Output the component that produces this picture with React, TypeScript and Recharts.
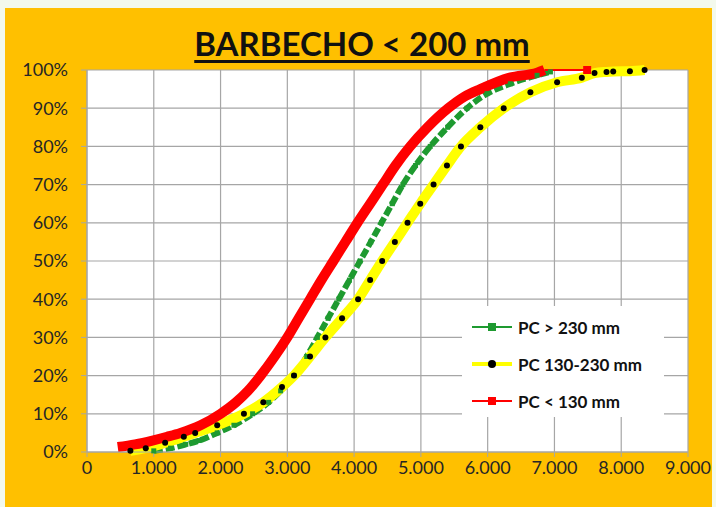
import React from "react";
import { LineChart, Line, XAxis, YAxis, CartesianGrid } from "recharts";

// cumulative % vs mm
const greenPct = [0.3, 1, 2, 3, 5, 7, 10, 13, 16, 20, 25, 30, 35, 40, 45, 50, 55, 60, 65, 70, 75, 80, 85, 90, 93.8, 96.4, 98.6, 99.5];
const greenMm = [1000, 1250, 1480, 1680, 1950, 2200, 2480, 2720, 2900, 3100, 3290, 3450, 3610, 3770, 3930, 4090, 4250, 4410, 4570, 4730, 4920, 5140, 5400, 5690, 5990, 6340, 6740, 6940];

const yellowPct = [0.3, 1, 2.4, 4, 5, 7, 10, 13, 17, 20, 25, 30, 35, 40, 45, 50, 55, 60, 65, 70, 75, 80, 85, 90, 94.2, 96.8, 98, 99.2, 99.5, 99.6, 99.7, 100];
const yellowMm = [650, 880, 1170, 1450, 1620, 1950, 2350, 2640, 2920, 3100, 3340, 3570, 3820, 4060, 4240, 4420, 4610, 4800, 4990, 5190, 5390, 5600, 5890, 6240, 6640, 7040, 7410, 7600, 7780, 7880, 8130, 8350];

const redPct = [1.3, 2, 3, 4, 5, 7, 10, 13, 16, 20, 25, 30, 35, 40, 45, 50, 55, 60, 65, 70, 75, 80, 85, 90, 93, 95, 98, 99.3, 100];
const redMm = [460, 720, 980, 1200, 1400, 1700, 2000, 2230, 2410, 2600, 2810, 3000, 3170, 3340, 3510, 3690, 3870, 4050, 4240, 4430, 4620, 4840, 5100, 5410, 5650, 5890, 6330, 6740, 6850];
const redTailPct = [100, 100];
const redTailMm = [6850, 7490];

const xTicks = [0, 1000, 2000, 3000, 4000, 5000, 6000, 7000, 8000, 9000];
const yTicks = [0, 10, 20, 30, 40, 50, 60, 70, 80, 90, 100];

const toPoints = (mm: number[], pct: number[]) => mm.map((x, i) => ({ x, p: pct[i] }));

const green = toPoints(greenMm, greenPct);
const yellow = toPoints(yellowMm, yellowPct);
const red = toPoints(redMm, redPct);
const redTail = toPoints(redTailMm, redTailPct);

const GREEN = "#1e9a30";
const FONT = "Lato, 'Open Sans', sans-serif";

const fmtX = (v: number) => (v === 0 ? "0" : `${v / 1000}.000`);

const square = (size: number, fill: string) => (props: any) => {
  const { cx, cy, index } = props;
  if (cx == null || cy == null) return <g key={index} />;
  return <rect key={index} x={cx - size / 2} y={cy - size / 2} width={size} height={size} fill={fill} />;
};

const blackDot = (props: any) => {
  const { cx, cy, index } = props;
  if (cx == null || cy == null) return <g key={index} />;
  return <circle key={index} cx={cx} cy={cy} r={3} fill="#000" />;
};

const legendItems = [
  { label: "PC > 230 mm", color: GREEN, marker: "square" },
  { label: "PC 130-230 mm", color: "#ffff00", marker: "circle" },
  { label: "PC < 130 mm", color: "#ff0000", marker: "square" },
];

export default function App() {
  return (
    <div style={{ position: "relative", width: 716, height: 507, background: "#f3f9ec", overflow: "hidden" }}>
      <style>{`body{margin:0}`}</style>
      <div style={{ position: "absolute", left: 5, top: 8, width: 707, height: 510, background: "#ffc000" }} />
      <div
        style={{
          position: "absolute",
          left: 0,
          width: 724,
          top: 23,
          textAlign: "center",
          fontFamily: FONT,
          fontWeight: 700,
          fontSize: 33,
          color: "#111",
          textDecoration: "underline",
          textDecorationThickness: 3,
          textUnderlineOffset: 4,
        }}
      >
        BARBECHO &lt; 200 mm
      </div>
      <div style={{ position: "absolute", left: 0, top: 0 }}>
        <LineChart width={716} height={507} margin={{ top: 70, right: 28, bottom: 25, left: 0 }}>
          <CartesianGrid stroke="#a6a6a6" fill="#ffffff" strokeWidth={1.2} />
          <XAxis
            type="number"
            dataKey="x"
            domain={[0, 9000]}
            ticks={xTicks}
            tickFormatter={fmtX}
            height={30}
            tickSize={5}
            tickMargin={4}
            stroke="#a6a6a6"
            tick={{ fill: "#262626", fontSize: 18, fontFamily: FONT }}
            allowDataOverflow
          />
          <YAxis
            type="number"
            dataKey="p"
            domain={[0, 100]}
            ticks={yTicks}
            tickFormatter={(v: number) => `${v}%`}
            width={87}
            tickSize={6}
            tickMargin={13}
            stroke="#a6a6a6"
            tick={{ fill: "#262626", fontSize: 18, fontFamily: FONT }}
          />
          <Line
            data={green}
            dataKey="p"
            type="monotone"
            stroke={GREEN}
            strokeWidth={6}
            strokeDasharray="9 3"
            dot={square(5, GREEN)}
            isAnimationActive={false}
          />
          <Line
            data={yellow}
            dataKey="p"
            type="monotone"
            stroke="#ffff00"
            strokeWidth={10}
            dot={blackDot}
            isAnimationActive={false}
          />
          <Line
            data={red}
            dataKey="p"
            type="monotone"
            stroke="#ff0000"
            strokeWidth={10}
            dot={false}
            isAnimationActive={false}
          />
          <Line
            data={redTail}
            dataKey="p"
            type="linear"
            stroke="#ff0000"
            strokeWidth={2}
            dot={(props: any) => (props.index === 1 ? square(8, "#ff0000")(props) : <g key={props.index} />)}
            isAnimationActive={false}
          />
        </LineChart>
      </div>
      <div
        style={{
          position: "absolute",
          left: 462,
          top: 306,
          width: 202,
          height: 111,
          background: "#fff",
          fontFamily: FONT,
          fontWeight: 700,
          fontSize: 17,
          color: "#111",
        }}
      >
        {legendItems.map((it, i) => (
          <div key={it.label} style={{ position: "absolute", left: 10, top: 9 + i * 37, height: 24, display: "flex", alignItems: "center" }}>
            <svg width={46} height={24}>
              <line x1={0} y1={12} x2={40} y2={12} stroke={it.color} strokeWidth={it.marker === "circle" ? 4 : 2} />
              {it.marker === "circle" ? (
                <circle cx={20} cy={12} r={4} fill="#000" />
              ) : (
                <rect x={16} y={8} width={8} height={8} fill={it.color} />
              )}
            </svg>
            <span>{it.label}</span>
          </div>
        ))}
      </div>
    </div>
  );
}
